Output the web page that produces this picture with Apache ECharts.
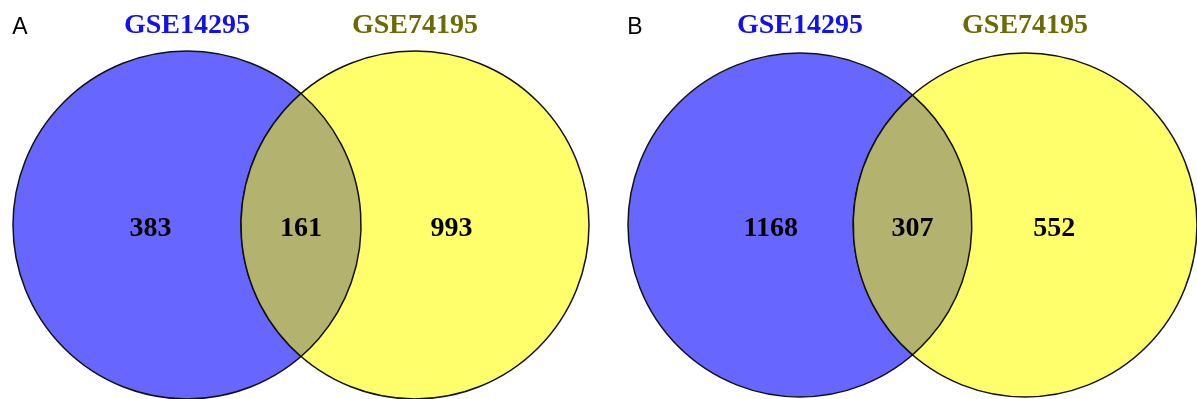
<!DOCTYPE html>
<html>
<head>
<meta charset="utf-8">
<script src="https://cdn.jsdelivr.net/npm/echarts@6/dist/echarts.min.js"></script>
<style>
html,body{margin:0;padding:0;background:#fff;}
#chart{width:1197px;height:399px;}
</style>
</head>
<body>
<div id="chart"></div>
<script>
// ---- data ----
const panelLetters = ['A', 'B'];
const setNames = ['GSE14295', 'GSE74195'];
const onlyFirst = [383, 1168];
const inBoth = [161, 307];
const onlySecond = [993, 552];

// ---- layout (in radius units) ----
const D = 1.31;              // distance between circle centres
const labelShift = [0.21, 0.17];
const colors = {
  first: '#6767ff', second: '#ffff6b', both: '#b3b36f',
  titleFirst: '#1010f0', titleSecond: '#6b6b00'
};

const chart = echarts.init(document.getElementById('chart'));

function makeRender(p) {
  return function (params, api) {
    const c1 = api.coord([0, 0]);
    const c2 = api.coord([D, 0]);
    const R = api.size([1, 0])[0];
    const mx = (c1[0] + c2[0]) / 2;
    const h = Math.sqrt(R * R - Math.pow((c2[0] - c1[0]) / 2, 2));
    const top = [mx, c1[1] - h], bot = [mx, c1[1] + h];
    const lens = 'M' + top[0] + ' ' + top[1] +
      ' A' + R + ' ' + R + ' 0 0 1 ' + bot[0] + ' ' + bot[1] +
      ' A' + R + ' ' + R + ' 0 0 1 ' + top[0] + ' ' + top[1] + ' Z';
    const stroke = '#111';
    const serif = 'Liberation Serif';
    const txt = (pos, text, fill, size, weight, family) => ({
      type: 'text',
      style: { x: pos[0], y: pos[1], text: text, fill: fill,
        fontSize: size, fontWeight: weight, fontFamily: family,
        align: 'center', verticalAlign: 'middle',
        textAlign: 'center', textVerticalAlign: 'middle' }
    });
    const sh = labelShift[p];
    return {
      type: 'group',
      children: [
        { type: 'circle', shape: { cx: c1[0], cy: c1[1], r: R },
          style: { fill: colors.first, stroke: stroke, lineWidth: 1.5 } },
        { type: 'circle', shape: { cx: c2[0], cy: c2[1], r: R },
          style: { fill: colors.second, stroke: stroke, lineWidth: 1.5 } },
        { type: 'path', shape: { pathData: lens },
          style: { fill: colors.both, stroke: stroke, lineWidth: 1.5 } },
        txt(api.coord([-sh, -0.02]), String(onlyFirst[p]), '#000', 28, 'bold', serif),
        txt(api.coord([D / 2, -0.02]), String(inBoth[p]), '#000', 28, 'bold', serif),
        txt(api.coord([D + sh, -0.02]), String(onlySecond[p]), '#000', 28, 'bold', serif),
        txt(api.coord([0, 1.145]), setNames[0], colors.titleFirst, 28, 'bold', serif),
        txt(api.coord([D, 1.145]), setNames[1], colors.titleSecond, 28, 'bold', serif),
        txt(api.coord([-0.96, 1.135]), panelLetters[p], '#000', 23, 'normal', 'Liberation Sans')
      ]
    };
  };
}

const grids = [
  { left: 13, top: 51, width: 576, height: 348 },
  { left: 628, top: 51, width: 576, height: 348 }
];

chart.setOption({
  animation: false,
  grid: grids,
  xAxis: grids.map((g, i) => ({ type: 'value', gridIndex: i, min: -1, max: D + 1, show: false })),
  yAxis: grids.map((g, i) => ({ type: 'value', gridIndex: i, min: -1, max: 1, show: false })),
  series: panelLetters.map((l, p) => ({
    type: 'custom',
    xAxisIndex: p, yAxisIndex: p,
    clip: false,
    renderItem: makeRender(p),
    data: [[0, 0, onlyFirst[p], inBoth[p], onlySecond[p]]]
  }))
});
</script>
</body>
</html>
